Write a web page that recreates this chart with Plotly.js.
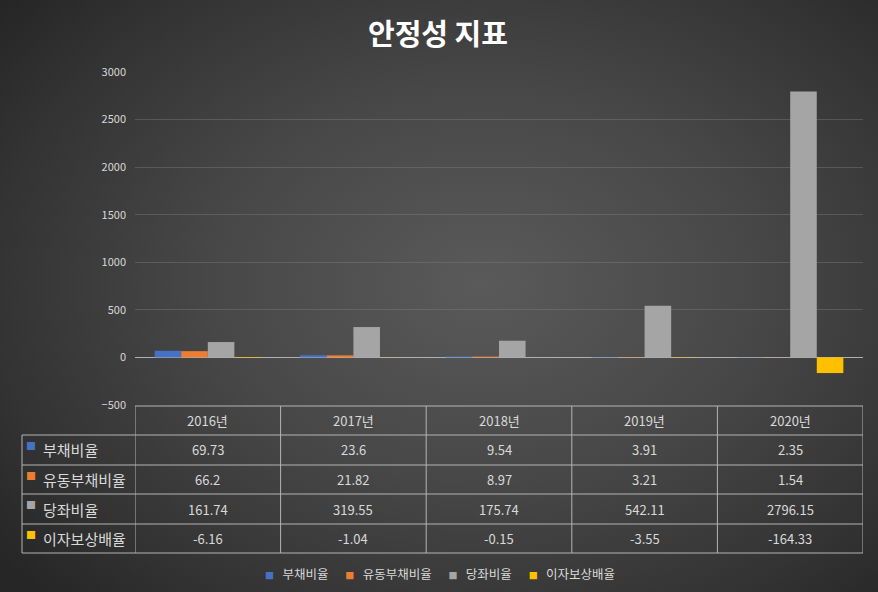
<!DOCTYPE html>
<html>
<head>
<meta charset="utf-8">
<script src="https://cdn.plot.ly/plotly-3.0.1.min.js"></script>
<style>
  html, body { margin: 0; padding: 0; }
  #chart {
    width: 878px; height: 592px;
    background: radial-gradient(ellipse 70% 75% at 55% 48%, #5a5a5a 0%, #474747 45%, #333333 80%, #262626 100%);
  }
</style>
</head>
<body>
<div id="chart"></div>
<script>
// 안정성 지표 (연도별)
var years = ['2016년', '2017년', '2018년', '2019년', '2020년'];
var seriesNames = ['부채비율', '유동부채비율', '당좌비율', '이자보상배율'];
var debtRatio = [69.73, 23.6, 9.54, 3.91, 2.35];
var currentDebtRatio = [66.2, 21.82, 8.97, 3.21, 1.54];
var quickRatio = [161.74, 319.55, 175.74, 542.11, 2796.15];
var interestCoverage = [-6.16, -1.04, -0.15, -3.55, -164.33];
var colors = ['#4472c4', '#ed7d31', '#a5a5a5', '#ffc000'];

var allSeries = [debtRatio, currentDebtRatio, quickRatio, interestCoverage];
var font = '"Noto Sans CJK KR", "Noto Sans", sans-serif';
var txt = '#d9d9d9';
var lineCol = '#b4b4b4';

// geometry (px)
var W = 878, H = 592;
var mL = 22, mR = 15, mT = 72, mB = 39;
var plotW = W - mL - mR, plotH = H - mT - mB;
var barLeft = 135, barBottom = 405;
var headerTop = 406, rowTops = [435, 465, 494, 524], tableBottom = 553;

function py(p) { return (H - mB - p) / plotH; }   // pixel y -> paper y
function px(p) { return (p - mL) / plotW; }       // pixel x -> paper x

var traces = allSeries.map(function (vals, i) {
  return {
    type: 'bar',
    name: seriesNames[i],
    x: years,
    y: vals,
    marker: { color: colors[i] },
    hoverinfo: 'skip'
  };
});

// ---- data table drawn with shapes + annotations ----
var shapes = [];
var annotations = [];
function hline(xref, x0, x1, y) {
  shapes.push({ type: 'line', xref: xref, yref: 'paper', x0: x0, x1: x1, y0: py(y), y1: py(y),
    line: { color: lineCol, width: 1 } });
}
function vline(xref, x, y0, y1) {
  shapes.push({ type: 'line', xref: xref, yref: 'paper', x0: x, x1: x, y0: py(y0), y1: py(y1),
    line: { color: lineCol, width: 1 } });
}
function label(xref, x, y, text, size, color, xanchor) {
  annotations.push({ xref: xref, yref: 'paper', x: x, y: y, text: text, showarrow: false,
    xanchor: xanchor || 'center', yanchor: 'middle',
    font: { family: font, size: size, color: color || txt } });
}

hline('x', -0.5, years.length - 0.5, headerTop);
rowTops.concat([tableBottom]).forEach(function (y) { hline('paper', 0, 1, y); });
vline('paper', 0, rowTops[0], tableBottom);
for (var k = 0; k <= years.length; k++) vline('x', k - 0.5, headerTop, tableBottom);

years.forEach(function (y) {
  label('x', y, py((headerTop + rowTops[0]) / 2), y, 13);
});
var rowEdges = rowTops.concat([tableBottom]);
seriesNames.forEach(function (n, i) {
  var mid = py((rowEdges[i] + rowEdges[i + 1]) / 2);
  label('paper', px(31), py(rowEdges[i] + 10), '■', 10, colors[i]);
  label('paper', px(41), mid, n, 15, txt, 'left');
  years.forEach(function (y, j) {
    label('x', y, mid, String(allSeries[i][j]), 13);
  });
});

// ---- legend (bottom) ----
var legendText = seriesNames.map(function (n, i) {
  return '<span style="color:' + colors[i] + ';font-size:9px">■</span>   ' + n;
}).join('      ');
label('paper', px(440), py(573), legendText, 12.5);

var layout = {
  width: W, height: H,
  margin: { l: mL, r: mR, t: mT, b: mB, autoexpand: false },
  paper_bgcolor: 'rgba(0,0,0,0)',
  plot_bgcolor: 'rgba(0,0,0,0)',
  font: { family: font, color: txt },
  title: {
    text: '<b>안정성 지표</b>',
    font: { family: font, size: 29, color: '#ffffff' },
    x: px(438), xref: 'paper', xanchor: 'center', y: 1 - 35 / H, yanchor: 'middle'
  },
  barmode: 'group',
  bargap: 0.27,
  bargroupgap: 0,
  showlegend: false,
  xaxis: {
    domain: [px(barLeft), 1],
    range: [-0.5, years.length - 0.5],
    showticklabels: false,
    showgrid: false,
    zeroline: false,
    showline: false,
    ticks: ''
  },
  yaxis: {
    domain: [py(barBottom), 1],
    range: [-500, 3000],
    dtick: 500,
    tickfont: { family: font, size: 11, color: txt },
    gridcolor: 'rgba(130,130,130,0.4)',
    gridwidth: 1,
    zeroline: true,
    zerolinecolor: '#b0b0b0',
    zerolinewidth: 1.5,
    showline: false,
    ticks: '',
    ticklabelstandoff: 8
  },
  shapes: shapes,
  annotations: annotations
};

Plotly.newPlot('chart', traces, layout, { displayModeBar: false, staticPlot: true });
</script>
</body>
</html>
